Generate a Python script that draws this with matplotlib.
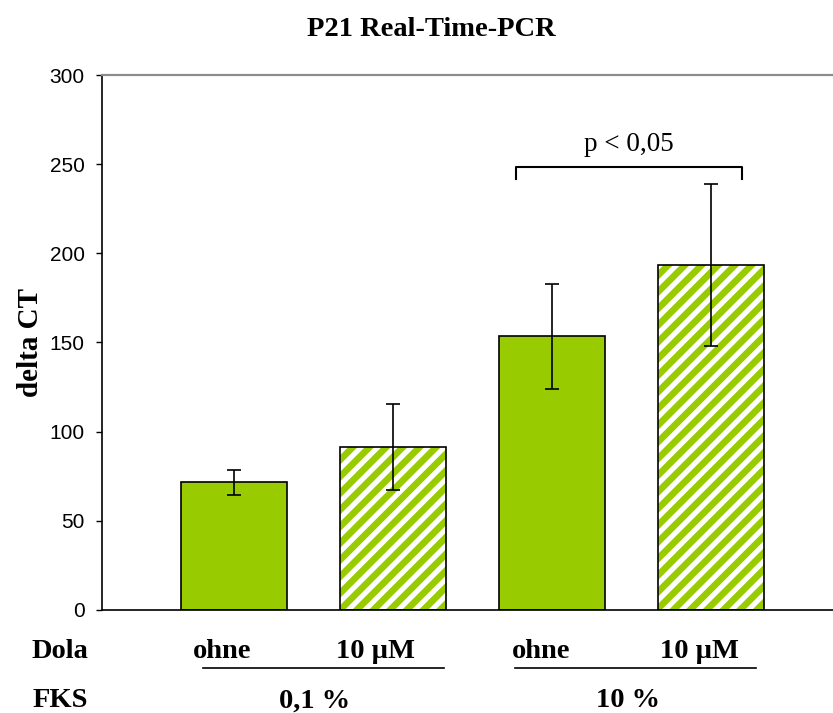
import matplotlib
matplotlib.use('Agg')
import matplotlib.pyplot as plt
import matplotlib.transforms as mtransforms

# values
dola_labels = ['ohne', '10 µM', 'ohne', '10 µM']
fks_labels = ['0,1 %', '10 %']
delta_ct = [71.5, 91.5, 153.5, 193.5]
errors = [7.0, 24.0, 29.5, 45.5]
hatched = [False, True, False, True]
yticks = [0, 50, 100, 150, 200, 250, 300]

GREEN = '#99CC00'
SERIF = 'Liberation Serif'
SANS = 'Liberation Sans'

plt.rcParams['hatch.linewidth'] = 4.8

fig = plt.figure(figsize=(8.33, 7.13), dpi=100)
ax = fig.add_axes([0.1224, 0.1445, 0.8776, 0.7503])

x = list(range(len(delta_ct)))
width = 0.668

for i in x:
    if hatched[i]:
        # green stripes first, black outline on top
        ax.bar(i, delta_ct[i], width, color='white', edgecolor=GREEN,
               hatch='//', linewidth=0, zorder=2)
        ax.bar(i, delta_ct[i], width, fill=False, edgecolor='black',
               linewidth=1.2, zorder=3)
    else:
        ax.bar(i, delta_ct[i], width, color=GREEN, edgecolor='black',
               linewidth=1.2, zorder=2)

ax.errorbar(x, delta_ct, yerr=errors, fmt='none', ecolor='black',
            elinewidth=1.2, capsize=5, capthick=1.2, zorder=4)

# significance bracket between the 10 % bars
ax.plot([1.773, 1.773, 3.195, 3.195], [241.7, 248.6, 248.6, 241.7],
        color='black', linewidth=1.5, zorder=4)
ax.text(2.48, 254, 'p < 0,05', ha='center', va='bottom',
        fontsize=19.5, family=SERIF)

ax.set_xlim(-0.834, 3.768)
ax.set_ylim(0, 300)
ax.set_yticks(yticks)
ax.set_xticks([])
ax.tick_params(axis='y', direction='out', length=4.5, width=1.0, pad=8,
               labelsize=15)
for lab in ax.get_yticklabels():
    lab.set_family(SANS)

ax.spines['right'].set_visible(False)
ax.spines['top'].set_color('#8c8c8c')
ax.spines['top'].set_linewidth(1.6)
ax.spines['left'].set_linewidth(1.2)
ax.spines['bottom'].set_linewidth(1.2)

ax.set_title('P21 Real-Time-PCR', fontsize=20.5, fontweight='bold',
             family=SERIF, pad=28, x=0.45)
ax.set_ylabel('delta CT', fontsize=21, fontweight='bold', family=SERIF,
              labelpad=4)

# table of conditions below the axis
trans = mtransforms.blended_transform_factory(ax.transData, ax.transAxes)
row_dola = -0.078
row_fks = -0.17
bold = dict(fontsize=20.5, fontweight='bold', family=SERIF,
            ha='center', va='center', transform=trans)

ax.text(-1.099, row_dola, 'Dola', **bold)
ax.text(-1.099, row_fks, 'FKS', **bold)
label_x = [-0.08, 0.887, 1.93, 2.93]
for pos, lab in zip(label_x, dola_labels):
    ax.text(pos, row_dola, lab, **bold)

group_spans = [(-0.195, 1.319), (1.766, 3.284)]
group_x = [0.506, 2.48]
for (a, b), pos, lab in zip(group_spans, group_x, fks_labels):
    ax.plot([a, b], [-0.109, -0.109], color='black', linewidth=1.2,
            transform=trans, clip_on=False)
    ax.text(pos, row_fks, lab, **bold)

fig.savefig('out.png', dpi=100)
